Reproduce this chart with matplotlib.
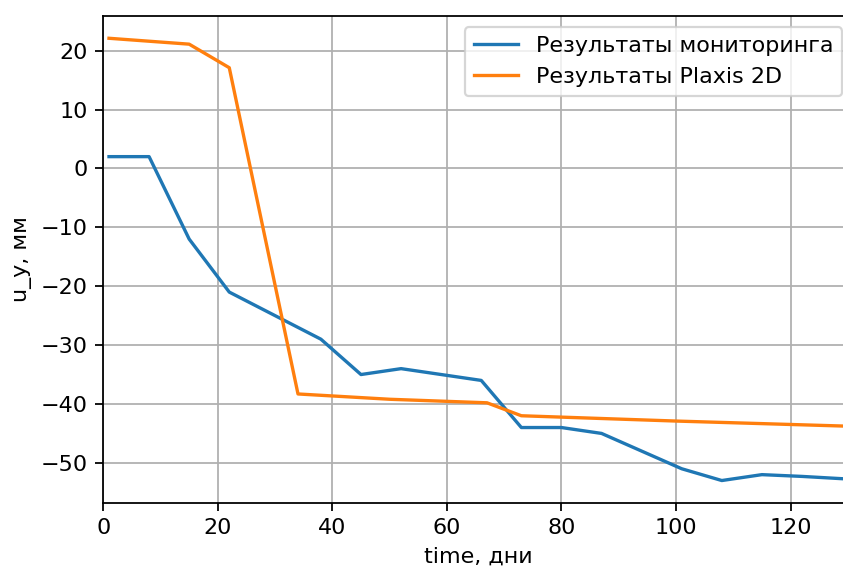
import matplotlib.pyplot as plt

days_monitoring = [1, 8, 15, 22, 38, 45, 52, 66, 73, 80, 87, 101, 108, 115, 122, 131]
uy_monitoring = [2, 2, -12, -21, -29, -35, -34, -36, -44, -44, -45, -51, -53, -52, -52.3, -52.8]

days_plaxis = [1, 15, 22, 34, 50, 67, 73, 100, 131]
uy_plaxis = [22.1, 21.1, 17.1, -38.3, -39.2, -39.8, -42.0, -42.9, -43.8]

fig = plt.figure(figsize=(843 / 160, 567 / 160), dpi=160)
ax = fig.add_axes([0.1225, 0.1135, 0.89, 0.858])

ax.plot(days_monitoring, uy_monitoring, label='Результаты мониторинга')
ax.plot(days_plaxis, uy_plaxis, label='Результаты Plaxis 2D')
ax.set_xlim(0, 131)
ax.set_xlabel('time, дни')
ax.set_ylabel('u_y, мм')
ax.grid(True)
ax.legend(loc='upper right')

fig.savefig('out.png', dpi=160)
